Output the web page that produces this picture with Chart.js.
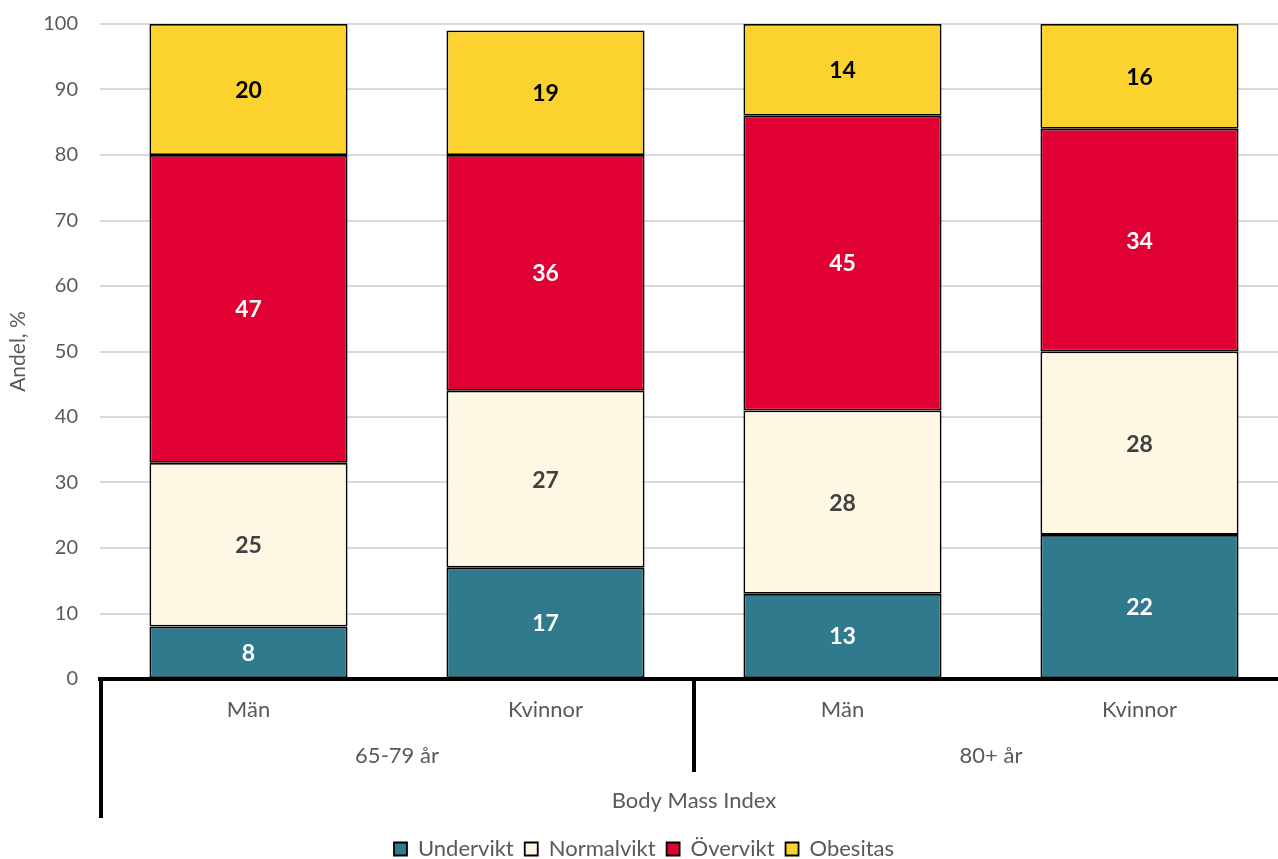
<!DOCTYPE html>
<html>
<head>
<meta charset="utf-8">
<script src="https://cdn.jsdelivr.net/npm/chart.js@4"></script>
<style>
  html, body { margin: 0; padding: 0; overflow: hidden; background: #fff; }
</style>
</head>
<body>
<canvas id="bmiChart" width="1292" height="859"></canvas>
<script>
// BMI-fördelning efter kön och åldersgrupp (andel, %)
var sexLabels = ['Män', 'Kvinnor', 'Män', 'Kvinnor'];
var ageGroups = ['65-79 år', '80+ år'];
var undervikt = [8, 17, 13, 22];
var normalvikt = [25, 27, 28, 28];
var overvikt = [47, 36, 45, 34];
var obesitas = [20, 19, 14, 16];

var axisGrey = '#595959';
Chart.defaults.font.family = 'Lato, "Noto Sans", sans-serif';

// value labels in the middle of every segment
var segmentLabels = {
    id: 'segmentLabels',
    afterDatasetsDraw: function (chart) {
        var ctx = chart.ctx;
        ctx.save();
        ctx.font = 'bold 23px Lato, "Noto Sans", sans-serif';
        ctx.textAlign = 'center';
        ctx.textBaseline = 'middle';
        chart.data.datasets.forEach(function (ds, i) {
            chart.getDatasetMeta(i).data.forEach(function (bar, j) {
                var c = bar.getCenterPoint();
                ctx.fillStyle = ds.labelColor;
                ctx.fillText(String(ds.data[j]), c.x, c.y + 1);
            });
        });
        ctx.restore();
    }
};

// thick separators of the two-level category axis
var groupDividers = {
    id: 'groupDividers',
    afterDraw: function (chart) {
        var x = chart.scales.x;
        var ctx = chart.ctx;
        var mid = (x.getPixelForValue(1) + x.getPixelForValue(2)) / 2;
        ctx.save();
        ctx.strokeStyle = '#000';
        ctx.lineWidth = 4;
        ctx.beginPath();
        ctx.moveTo(x.left + 1, x.top - 2);
        ctx.lineTo(x.left + 1, x.top + 139);
        ctx.moveTo(mid, x.top);
        ctx.lineTo(mid, x.top + 93);
        ctx.stroke();
        ctx.restore();
    }
};

new Chart(document.getElementById('bmiChart'), {
    type: 'bar',
    data: {
        labels: sexLabels,
        datasets: [
            { label: 'Undervikt', data: undervikt, backgroundColor: '#2f7b8d', labelColor: '#ffffff' },
            { label: 'Normalvikt', data: normalvikt, backgroundColor: '#fef7e4', labelColor: '#404040' },
            { label: 'Övervikt', data: overvikt, backgroundColor: '#e10034', labelColor: '#ffffff' },
            { label: 'Obesitas', data: obesitas, backgroundColor: '#fcd22e', labelColor: '#000000' }
        ].map(function (ds) {
            ds.borderColor = '#000';
            ds.borderWidth = 1.8;
            ds.borderSkipped = false;
            ds.barPercentage = 0.667;
            ds.categoryPercentage = 1;
            return ds;
        })
    },
    options: {
        responsive: false,
        animation: false,
        layout: { padding: { top: 24, right: 4, left: 0, bottom: -11 } },
        plugins: {
            legend: {
                position: 'bottom',
                labels: {
                    color: axisGrey,
                    font: { size: 22 },
                    boxWidth: 13,
                    boxHeight: 13,
                    padding: 11
                }
            },
            tooltip: { enabled: false }
        },
        scales: {
            x: {
                stacked: true,
                grid: { display: false },
                border: { display: true, color: '#000', width: 4 },
                ticks: { color: axisGrey, font: { size: 22 }, padding: 10 },
                afterFit: function (s) { s.height = 46; }
            },
            x2: {
                type: 'category',
                labels: ageGroups,
                position: 'bottom',
                offset: true,
                grid: { display: false },
                border: { display: false },
                ticks: { color: axisGrey, font: { size: 22 }, padding: 10 },
                title: {
                    display: true,
                    text: 'Body Mass Index',
                    color: axisGrey,
                    font: { size: 22 },
                    padding: { top: 20, bottom: 13 }
                },
                afterFit: function (s) { s.height = 102; }
            },
            y: {
                stacked: true,
                min: 0,
                max: 100,
                ticks: { stepSize: 10, color: axisGrey, font: { size: 20 }, padding: 12 },
                grid: { color: '#d9d9d9', lineWidth: 2, drawTicks: true, tickLength: 10, tickColor: 'rgba(0,0,0,0)' },
                border: { display: false },
                title: { display: true, text: 'Andel, %', color: axisGrey, font: { size: 21 }, padding: { top: 6, bottom: 4 } },
                afterFit: function (s) { s.width = 100; }
            }
        }
    },
    plugins: [segmentLabels, groupDividers]
});
</script>
</body>
</html>
